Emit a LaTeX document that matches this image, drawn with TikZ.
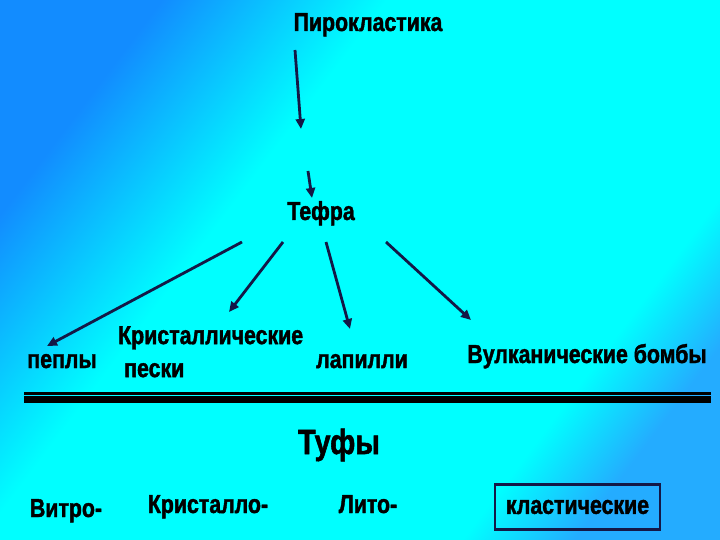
\documentclass[tikz,border=0pt]{standalone}
\usepackage{fontspec}
\setmainfont{Liberation Sans}[FakeStretch=0.82,BoldFeatures={FakeBold=1.5}]
\usetikzlibrary{arrows.meta}

\definecolor{bgblue}{RGB}{18,140,255}
\definecolor{bglight}{RGB}{36,172,255}
\definecolor{bgcyan}{RGB}{0,255,255}
\definecolor{navy}{RGB}{20,24,70}

\pgfdeclarehorizontalshading{slidebg}{100bp}{color(0bp)=(bgblue); color(25bp)=(bgblue); color(39bp)=(bgcyan); color(69bp)=(bgcyan); color(76bp)=(bglight); color(100bp)=(bglight)}

\tikzset{
	lbl/.style={font=\fontsize{26}{33}\selectfont\bfseries, inner sep=0pt, anchor=base},
	arr/.style={draw=navy, line width=2.8pt, -{Triangle[length=10pt,width=9pt]}},
}

\begin{document}
\begin{tikzpicture}[x=1pt,y=-1pt]
	\useasboundingbox (0,0) rectangle (720,540);
	\shade[shading=slidebg, shading angle=-37] (0,0) rectangle (720,540);

	\node[lbl] (piro) at (368,31) {Пирокластика};
	\node[lbl] (tefra) at (321,220) {Тефра};
	\node[lbl] (peply) at (62,368) {пеплы};
	\node[lbl, align=left, anchor=north west] (krist) at (118,326) {Кристаллические \\ \hspace*{6pt}пески};
	\node[lbl] (lapilli) at (362,368) {лапилли};
	\node[lbl] (bomby) at (587,363) {Вулканические бомбы};

	\coordinate (piro-out) at (295,50);
	\coordinate (piro-end) at (301,129);
	\coordinate (tefra-from) at (308,171);
	\coordinate (tefra-in) at (312,198);
	\draw[arr] (piro-out) -- (piro-end);
	\draw[arr] (tefra-from) -- (tefra-in);

	\coordinate (t-peply) at (242,242);
	\coordinate (t-krist) at (283,242);
	\coordinate (t-lapilli) at (326,242);
	\coordinate (t-bomby) at (386,242);
	\coordinate (peply-in) at (47,346);
	\coordinate (krist-in) at (229,312);
	\coordinate (lapilli-in) at (350,329);
	\coordinate (bomby-in) at (471,320);
	\draw[arr] (t-peply) -- (peply-in);
	\draw[arr] (t-krist) -- (krist-in);
	\draw[arr] (t-lapilli) -- (lapilli-in);
	\draw[arr] (t-bomby) -- (bomby-in);

	% double rule
	\draw[line width=2.5pt] (24,393.3) -- (711,393.3);
	\draw[line width=7pt] (24,399.5) -- (711,399.5);

	\node[lbl, font=\fontsize{35}{40}\selectfont\bfseries] (tufy) at (339,454) {Туфы};
	\node[lbl] (vitro) at (66,517) {Витро-};
	\node[lbl] (kristallo) at (208,513) {Кристалло-};
	\node[lbl] (lito) at (368,513) {Лито-};
	\node[lbl, anchor=center, draw=navy, line width=2.5pt, minimum width=165pt, minimum height=45pt] (klast) at (577.5,507) {кластические};
\end{tikzpicture}
\end{document}
